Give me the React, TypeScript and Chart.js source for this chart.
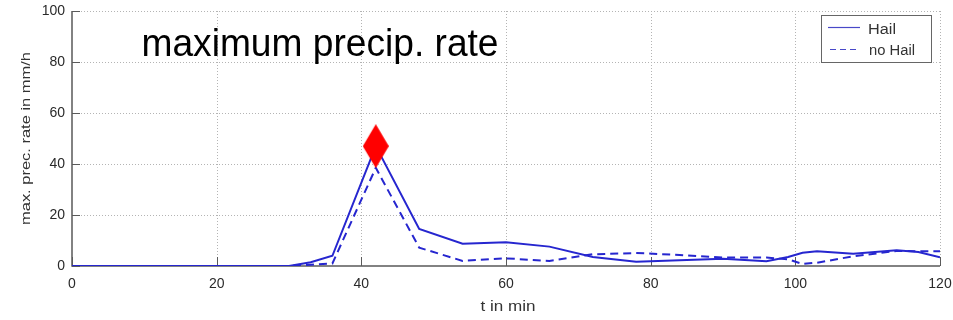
import { useEffect, useRef } from "react";
import { Chart, registerables } from "chart.js";

Chart.register(...registerables);

// Simulation time (min) and maximum precipitation rate (mm/h)
const times = [0, 6, 12, 18, 24, 30, 33, 36, 42, 48, 54, 60, 66, 72, 78, 84, 90, 96, 99, 101, 103, 108, 114, 117, 120];
const hail = [0, 0, 0, 0, 0, 0, 1.5, 4, 47, 14.5, 8.7, 9.3, 7.6, 3.5, 1.7, 2.3, 2.8, 1.9, 3.5, 5.2, 5.8, 4.8, 6.2, 5.5, 3.4];
const noHail = [0, 0, 0, 0, 0, 0, 0.5, 1, 38.5, 7.2, 2.0, 3.0, 2.0, 4.6, 5.1, 4.3, 3.3, 3.3, 2.6, 0.8, 1.3, 3.8, 5.9, 5.8, 5.8];

const xTicks = [0, 20, 40, 60, 80, 100, 120];
const yTicks = [0, 20, 40, 60, 80, 100];

const seriesLabels = ["Hail", "no Hail"];
const chartTitle = "maximum precip. rate";
const xTitle = "t in min";
const yTitle = "max. prec. rate in mm/h";

const FONT = "'Liberation Sans', Arial, Helvetica, sans-serif";
const LINE_BLUE = "#2626cf";
const AXIS_GREY = "#5a5a5a";

// Elongated red diamond used as the peak marker
function makeDiamond(): HTMLCanvasElement {
  const c = document.createElement("canvas");
  c.width = 26;
  c.height = 44;
  const g = c.getContext("2d")!;
  g.fillStyle = "#ff0000";
  g.beginPath();
  g.moveTo(13, 0);
  g.lineTo(26, 22);
  g.lineTo(13, 44);
  g.lineTo(0, 22);
  g.closePath();
  g.fill();
  return c;
}

function fitText(
  ctx: CanvasRenderingContext2D,
  text: string,
  x: number,
  y: number,
  width: number,
  font: string,
  color: string,
  rotate = false,
  align: CanvasTextAlign = "center"
) {
  ctx.save();
  ctx.font = font;
  ctx.fillStyle = color;
  const w = ctx.measureText(text).width;
  ctx.translate(x, y);
  if (rotate) ctx.rotate(-Math.PI / 2);
  ctx.scale(width / w, 1);
  ctx.textAlign = align;
  ctx.textBaseline = "alphabetic";
  ctx.fillText(text, 0, 0);
  ctx.restore();
}

const framePlugin = {
  id: "frame",
  beforeDatasetsDraw(chart: any) {
    const { ctx, chartArea: a, scales } = chart;
    const xs = scales.x;
    const ys = scales.y;
    ctx.save();
    // dotted grid
    ctx.strokeStyle = "#b4b4b4";
    ctx.lineWidth = 1;
    ctx.setLineDash([1, 2]);
    for (const t of xTicks) {
      if (t === xTicks[0]) continue;
      const px = Math.round(xs.getPixelForValue(t)) + 0.5;
      ctx.beginPath();
      ctx.moveTo(px, a.top);
      ctx.lineTo(px, a.bottom);
      ctx.stroke();
    }
    for (const v of yTicks) {
      if (v === yTicks[0]) continue;
      const py = Math.round(ys.getPixelForValue(v)) + 0.5;
      ctx.beginPath();
      ctx.moveTo(a.left, py);
      ctx.lineTo(a.right, py);
      ctx.stroke();
    }
    ctx.setLineDash([]);
    // axis lines with inward ticks
    ctx.strokeStyle = AXIS_GREY;
    ctx.lineWidth = 1.5;
    ctx.beginPath();
    ctx.moveTo(a.left, a.top);
    ctx.lineTo(a.left, a.bottom);
    ctx.lineTo(a.right, a.bottom);
    ctx.stroke();
    ctx.lineWidth = 1;
    for (const t of xTicks) {
      const px = Math.round(xs.getPixelForValue(t)) + 0.5;
      ctx.beginPath();
      ctx.moveTo(px, a.bottom);
      ctx.lineTo(px, a.bottom - 9);
      ctx.stroke();
    }
    for (const v of yTicks) {
      const py = Math.round(ys.getPixelForValue(v)) + 0.5;
      ctx.beginPath();
      ctx.moveTo(a.left, py);
      ctx.lineTo(a.left + 8, py);
      ctx.stroke();
    }
    ctx.restore();
  },
  afterDraw(chart: any) {
    const { ctx } = chart;
    // titles
    fitText(ctx, chartTitle, 320, 55.5, 357, `38px ${FONT}`, "#000");
    fitText(ctx, xTitle, 508, 311, 55, `14px ${FONT}`, "#333");
    fitText(ctx, yTitle, 29.5, 138.5, 173, `13px ${FONT}`, "#333", true);

    // legend
    ctx.save();
    ctx.fillStyle = "#ffffff";
    ctx.fillRect(821.5, 15.5, 110, 47);
    ctx.strokeStyle = "#666";
    ctx.lineWidth = 1;
    ctx.strokeRect(821.5, 15.5, 110, 47);
    ctx.strokeStyle = "#4848c8";
    ctx.lineWidth = 1.2;
    ctx.beginPath();
    ctx.moveTo(828, 27.5);
    ctx.lineTo(860, 27.5);
    ctx.stroke();
    ctx.setLineDash([6, 4]);
    ctx.beginPath();
    ctx.moveTo(830, 49.5);
    ctx.lineTo(860, 49.5);
    ctx.stroke();
    ctx.setLineDash([]);
    ctx.restore();
    fitText(ctx, seriesLabels[0], 868, 33.5, 28, `14px ${FONT}`, "#333", false, "left");
    fitText(ctx, seriesLabels[1], 869, 55, 46, `14px ${FONT}`, "#333", false, "left");
  },
};

export default function App() {
  const canvasRef = useRef<HTMLCanvasElement | null>(null);

  useEffect(() => {
    document.body.style.margin = "0";
    const canvas = canvasRef.current;
    if (!canvas) return;

    const peakIndex = hail.indexOf(Math.max(...hail));
    const diamond = makeDiamond();

    const chart = new Chart(canvas, {
      type: "line",
      data: {
        datasets: [
          {
            label: "peak",
            data: [{ x: times[peakIndex], y: hail[peakIndex] }],
            showLine: false,
            pointStyle: diamond as any,
            pointRadius: 10,
            order: 0,
          },
          {
            label: seriesLabels[0],
            data: times.map((t, i) => ({ x: t, y: hail[i] })),
            borderColor: LINE_BLUE,
            borderWidth: 2,
            pointRadius: 0,
            tension: 0,
            order: 1,
          },
          {
            label: seriesLabels[1],
            data: times.map((t, i) => ({ x: t, y: noHail[i] })),
            borderColor: LINE_BLUE,
            borderWidth: 2,
            borderDash: [8, 5],
            pointRadius: 0,
            tension: 0,
            order: 2,
          },
        ],
      },
      options: {
        responsive: false,
        animation: false,
        devicePixelRatio: 1,
        layout: { padding: { top: 6, right: 13, left: 0, bottom: 0 } },
        plugins: {
          legend: { display: false },
          tooltip: { enabled: false },
        },
        scales: {
          x: {
            type: "linear",
            min: 0,
            max: 120,
            afterFit: (s: any) => {
              s.height = 54;
              s.paddingLeft = 0;
              s.paddingRight = 0;
            },
            afterBuildTicks: (s: any) => {
              s.ticks = xTicks.map((v) => ({ value: v }));
            },
            grid: { display: false, drawTicks: false },
            border: { display: false },
            ticks: {
              padding: 10,
              color: "#2a2a2a",
              font: { family: FONT, size: 14 },
              maxRotation: 0,
            },
          },
          y: {
            type: "linear",
            min: 0,
            max: 100,
            afterFit: (s: any) => {
              s.width = 72;
              s.paddingTop = 0;
              s.paddingBottom = 0;
            },
            afterBuildTicks: (s: any) => {
              s.ticks = yTicks.map((v) => ({ value: v }));
            },
            grid: { display: false, drawTicks: false },
            border: { display: false },
            ticks: {
              padding: 7,
              color: "#2a2a2a",
              font: { family: FONT, size: 14 },
            },
          },
        },
      },
      plugins: [framePlugin],
    });

    return () => chart.destroy();
  }, []);

  return (
    <canvas
      ref={canvasRef}
      width={953}
      height={320}
      style={{ display: "block", width: 953, height: 320 }}
    />
  );
}
